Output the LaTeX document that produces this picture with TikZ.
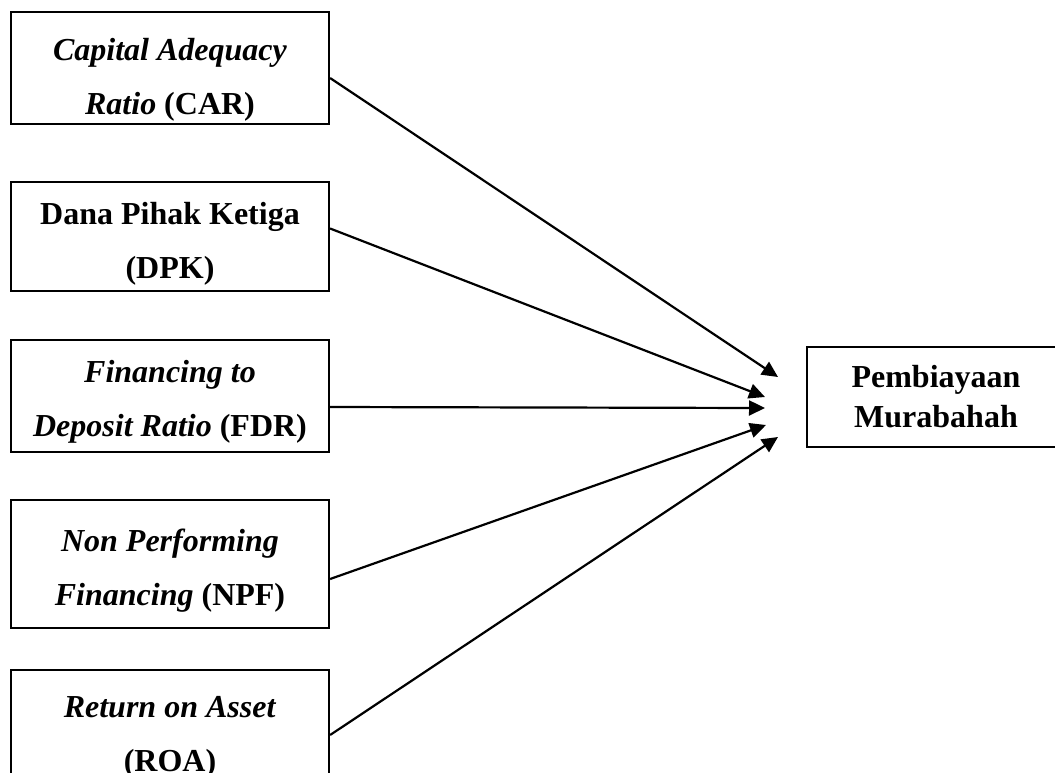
\documentclass[tikz,border=0pt]{standalone}
\usepackage{fontspec}
\setmainfont{Liberation Serif}
\usepackage{tikz}
\usetikzlibrary{arrows.meta}
\usetikzlibrary{calc,positioning}

\begin{document}
\begin{tikzpicture}[x=0.5pt, y=-0.5pt,
    factorbox/.style={rectangle, draw=black, line width=1.1pt, text=black,
    minimum width=159pt, inner sep=0pt, align=center,
    font=\fontsize{16}{27}\selectfont\bfseries},
    targetbox/.style={factorbox, minimum width=129pt, minimum height=50pt,
    font=\fontsize{16}{20}\selectfont\bfseries},
    link/.style={line width=1.1pt, -{Triangle[length=8pt, width=7.5pt]}}]
    \useasboundingbox (0,0) rectangle (1055,772);
    \clip (0,0) rectangle (1055,772);

    \node (car) [factorbox, minimum height=56pt] at (170,68)
    {\rule{0pt}{23pt}\textit{Capital Adequacy} \\ \textit{Ratio} (CAR)};
    \node (dpk) [factorbox, minimum height=54.5pt] at (170,236.5)
    {\rule{0pt}{18pt}Dana Pihak Ketiga \\ (DPK)};
    \node (fdr) [factorbox, minimum height=56pt] at (170,396)
    {\rule{0pt}{17pt}\textit{Financing to} \\ \textit{Deposit Ratio} (FDR)};
    \node (npf) [factorbox, minimum height=64pt] at (170,564)
    {\rule{0pt}{18pt}\textit{Non Performing} \\ \textit{Financing} (NPF)};
    \node (roa) [factorbox, minimum height=56pt] at (170,726)
    {\rule{0pt}{22pt}\textit{Return on Asset} \\ (ROA)};

    \node (murabahah) [targetbox] at (936,397) {Pembiayaan \\ Murabahah};

    % arrow tips in front of the dependent variable
    \coordinate (tipcar) at (778,377);
    \coordinate (tipdpk) at (765,397);
    \coordinate (tipfdr) at (765,408);
    \coordinate (tipnpf) at (766,425);
    \coordinate (tiproa) at (778,437);

    \draw [link] ([yshift=-5pt]car.east) -- (tipcar);
    \draw [link] ([yshift=4pt]dpk.east) -- (tipdpk);
    \draw [link] ([yshift=-5.5pt]fdr.east) -- (tipfdr);
    \draw [link] ([yshift=-7.5pt]npf.east) -- (tipnpf);
    \draw [link] ([yshift=-4.5pt]roa.east) -- (tiproa);
\end{tikzpicture}
\end{document}
